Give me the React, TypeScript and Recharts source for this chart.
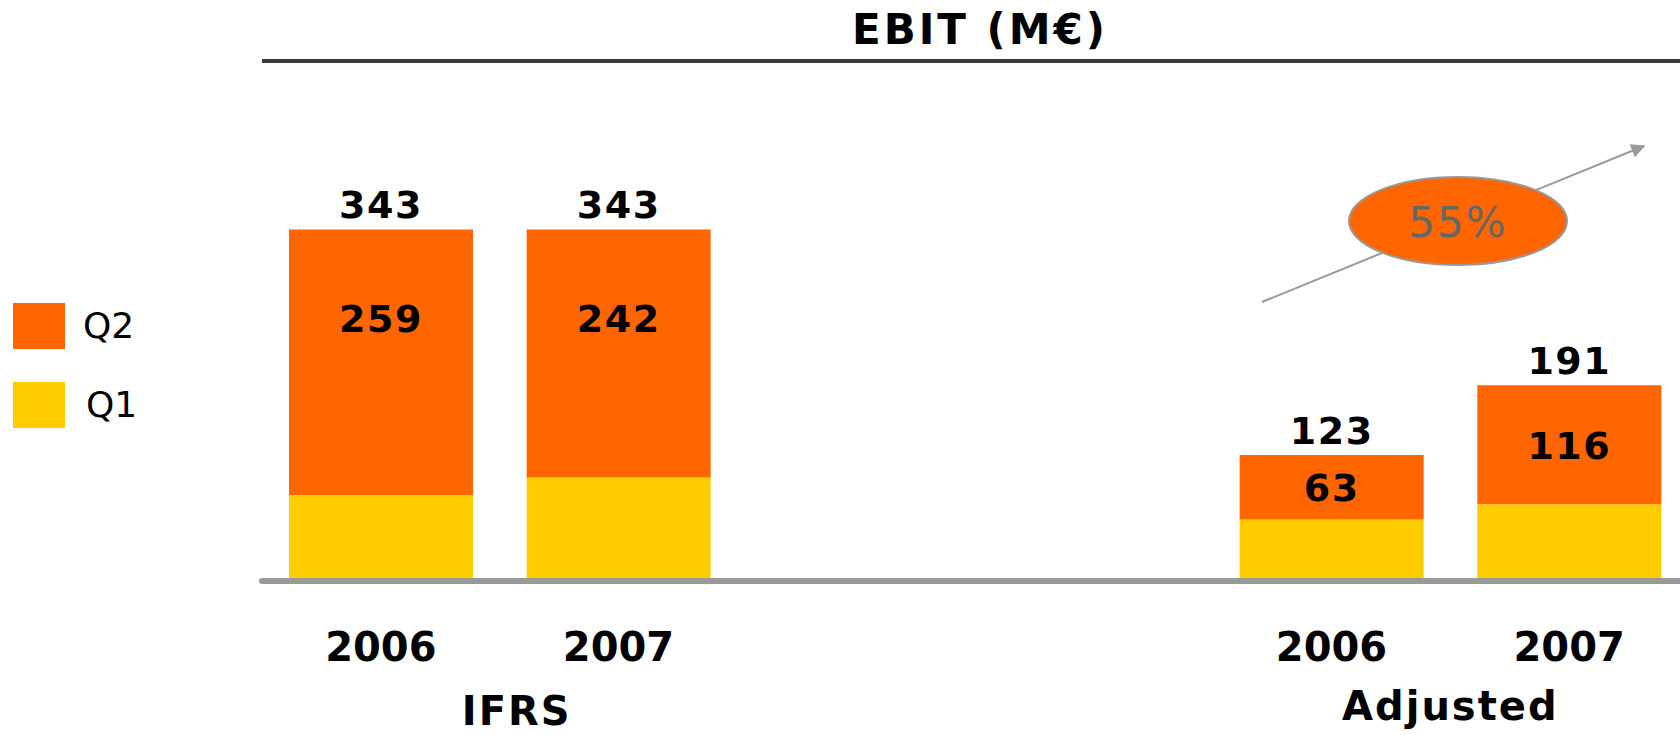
import React from 'react';
import { BarChart, Bar, XAxis, YAxis, LabelList } from 'recharts';

// data (M€)
const periods = ['2006', '2007', '', '', '2006', '2007'];
const groups = ['IFRS', 'IFRS', '', '', 'Adjusted', 'Adjusted'];
const q1Values = [84, 101, null, null, 60, 75];
const q2Values = [259, 242, null, null, 63, 116];
const seriesNames = ['Q1', 'Q2'];

const ORANGE = '#FF6600';
const YELLOW = '#FFCC00';
const GREY = '#999999';
const FONT = '"DejaVu Sans", Verdana, sans-serif';

const CHART_W = 1688;
const CHART_H = 735;
const MARGIN = { top: 171, right: 0, bottom: 0, left: 262 };
const BAND = (CHART_W - MARGIN.left - MARGIN.right) / periods.length;

const data = periods.map((period, i) => ({
  id: i,
  period,
  group: groups[i],
  q1: q1Values[i],
  q2: q2Values[i],
  total: q1Values[i] == null ? null : (q1Values[i] as number) + (q2Values[i] as number),
}));

// growth between the two adjusted years, shown in the bubble
const growth = Math.round(((data[5].total as number) / (data[4].total as number) - 1) * 100);

// per-group nudges for the group caption under the years
const groupStyle: Record<string, { dx: number; dy: number }> = {
  IFRS: { dx: 17, dy: 144 },
  Adjusted: { dx: 0, dy: 139 },
};

function YearTick(props: any) {
  const { x, y, payload } = props;
  const row = data[payload.value];
  if (!row) return null;
  const firstOfGroup = row.group && (payload.value === 0 || data[payload.value - 1].group !== row.group);
  const gs = groupStyle[row.group];
  return (
    <g>
      <text x={x} y={y + 80} textAnchor="middle" fontFamily={FONT} fontWeight="bold" fontSize={40} fill="#000">
        {row.period}
      </text>
      {firstOfGroup && gs ? (
        <text
          x={x + BAND / 2 + gs.dx}
          y={y + gs.dy}
          textAnchor="middle"
          fontFamily={FONT}
          fontWeight="bold"
          fontSize={40}
          letterSpacing={2}
          fill="#000"
        >
          {row.group}
        </text>
      ) : null}
    </g>
  );
}

function InsideLabel(props: any) {
  const { x, y, width, height, value } = props;
  if (value == null) return null;
  const mid = y + Math.min(height / 2, 89);
  return (
    <text x={x + width / 2} y={mid + 14} textAnchor="middle" fontFamily={FONT} fontWeight="bold" fontSize={38} letterSpacing={1.5} fill="#000">
      {value}
    </text>
  );
}

function TotalLabel(props: any) {
  const { x, y, width, value } = props;
  if (value == null) return null;
  return (
    <text x={x + width / 2} y={y - 11} textAnchor="middle" fontFamily={FONT} fontWeight="bold" fontSize={38} letterSpacing={1.5} fill="#000">
      {value}
    </text>
  );
}

function SideLegend() {
  const items = [
    { name: seriesNames[1], color: ORANGE },
    { name: seriesNames[0], color: YELLOW },
  ];
  return (
    <div style={{ position: 'absolute', left: 13, top: 303, width: 150 }}>
      {items.map((it, i) => (
        <div key={it.name} style={{ position: 'absolute', left: 0, top: i * 79, height: 46, display: 'flex', alignItems: 'center' }}>
          <div style={{ width: 52, height: 46, background: it.color }} />
          <span style={{ marginLeft: 18 + i * 3, fontFamily: FONT, fontSize: 36, color: '#000', lineHeight: '46px' }}>
            {it.name}
          </span>
        </div>
      ))}
    </div>
  );
}

export default function App() {
  return (
    <div style={{ position: 'absolute', left: 0, top: 0, width: 1680, height: 735, overflow: 'hidden', background: '#fff' }}>
      <BarChart width={CHART_W} height={CHART_H} data={data} margin={MARGIN} barSize={184}>
        <XAxis
          dataKey="id"
          height={154}
          interval={0}
          tickLine={false}
          tickSize={0}
          tickMargin={0}
          axisLine={{ stroke: GREY, strokeWidth: 6, strokeLinecap: 'round' }}
          tick={<YearTick />}
        />
        <YAxis hide domain={[0, 400]} />
        <Bar dataKey="q1" name={seriesNames[0]} stackId="a" fill={YELLOW} isAnimationActive={false} />
        <Bar dataKey="q2" name={seriesNames[1]} stackId="a" fill={ORANGE} isAnimationActive={false}>
          <LabelList dataKey="q2" content={<InsideLabel />} />
          <LabelList dataKey="total" content={<TotalLabel />} />
        </Bar>
      </BarChart>
      <SideLegend />
      <svg width={1680} height={735} style={{ position: 'absolute', left: 0, top: 0, pointerEvents: 'none' }}>
        <defs>
          <marker id="head" viewBox="0 0 10 10" refX="9" refY="5" markerWidth="18" markerHeight="14" markerUnits="userSpaceOnUse" orient="auto">
            <path d="M0,0 L10,5 L0,10 z" fill={GREY} />
          </marker>
        </defs>
        <text x={980} y={44} textAnchor="middle" fontFamily={FONT} fontWeight="bold" fontSize={42} letterSpacing={3} fill="#000">
          EBIT (M€)
        </text>
        <line x1={262} y1={61} x2={1680} y2={61} stroke="#3c3c3c" strokeWidth={4} />
        <line x1={1262} y1={302} x2={1644} y2={146} stroke={GREY} strokeWidth={2} markerEnd="url(#head)" />
        <ellipse cx={1458} cy={221} rx={109} ry={44} fill={ORANGE} stroke={GREY} strokeWidth={2} />
        <text x={1458} y={237} textAnchor="middle" fontFamily={FONT} fontSize={42} letterSpacing={2} fill="#666">
          {growth}%
        </text>
      </svg>
    </div>
  );
}
